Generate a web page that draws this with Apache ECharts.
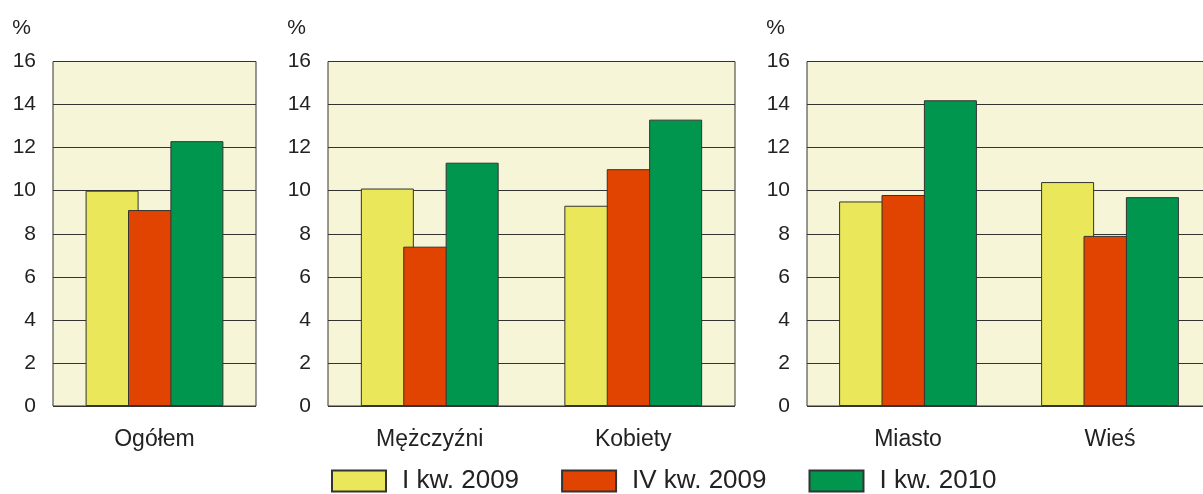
<!DOCTYPE html>
<html>
<head>
<meta charset="utf-8">
<script src="https://cdn.jsdelivr.net/npm/echarts@6/dist/echarts.min.js"></script>
<style>html,body{margin:0;padding:0;background:#fff}#c{width:1203px;height:494px}</style>
</head>
<body>
<div id="c"></div>
<script>
// Data
var seriesNames = ['I kw. 2009', 'IV kw. 2009', 'I kw. 2010'];
var catTotal = ['Ogółem'];
var catSex = ['Mężczyźni', 'Kobiety'];
var catPlace = ['Miasto', 'Wieś'];
var totalQ1_2009 = [10.0];
var totalQ4_2009 = [9.1];
var totalQ1_2010 = [12.3];
var sexQ1_2009 = [10.1, 9.3];
var sexQ4_2009 = [7.4, 11.0];
var sexQ1_2010 = [11.3, 13.3];
var placeQ1_2009 = [9.5, 10.4];
var placeQ4_2009 = [9.8, 7.9];
var placeQ1_2010 = [14.2, 9.7];
var yTicks = [0, 16, 2];

var colors = ['#EAE85A', '#E04400', '#00964E'];
var FONT = 'Liberation Sans, Arial, sans-serif';
var chart = echarts.init(document.getElementById('c'), null, {renderer: 'canvas'});

var grids = [
  {left: 53, top: 61.5, width: 203, height: 344.5},
  {left: 328, top: 61.5, width: 407, height: 344.5},
  {left: 807, top: 61.5, width: 404, height: 344.5}
];
var cats = [catTotal, catSex, catPlace];
var panelData = [
  [totalQ1_2009, totalQ4_2009, totalQ1_2010],
  [sexQ1_2009, sexQ4_2009, sexQ1_2010],
  [placeQ1_2009, placeQ4_2009, placeQ1_2010]
];

var xAxes = [], yAxes = [], series = [], gridOpts = [];
grids.forEach(function (g, i) {
  gridOpts.push(Object.assign({show: true, backgroundColor: '#F6F5D7', borderColor: '#333', borderWidth: 1,
    containLabel: false, outerBoundsMode: 'none'}, g));
  xAxes.push({
    type: 'category', gridIndex: i, data: cats[i],
    axisLine: {show: false}, axisTick: {show: false},
    axisLabel: {margin: 22, fontSize: 23, color: '#222', fontFamily: FONT}
  });
  yAxes.push({
    type: 'value', gridIndex: i, min: yTicks[0], max: yTicks[1], interval: yTicks[2],
    axisLine: {show: false}, axisTick: {show: false},
    axisLabel: {margin: 17, fontSize: 21, color: '#222', fontFamily: FONT},
    splitLine: {show: true, lineStyle: {color: '#333', width: 1}},
    name: '%', nameLocation: 'end', nameGap: 23,
    nameTextStyle: {fontSize: 21, color: '#222', fontFamily: FONT, align: 'right', padding: [0, 22, 0, 0]}
  });
  panelData[i].forEach(function (vals, s) {
    series.push({
      type: 'bar', name: seriesNames[s], xAxisIndex: i, yAxisIndex: i,
      data: vals, barWidth: 53, barGap: '-20%',
      itemStyle: {color: colors[s], borderColor: '#333', borderWidth: 1},
      emphasis: {disabled: true}
    });
  });
});

chart.setOption({
  animation: false,
  grid: gridOpts,
  xAxis: xAxes,
  yAxis: yAxes,
  legend: {
    data: seriesNames, left: 326, top: 463, icon: 'rect',
    itemWidth: 54, itemHeight: 21, itemGap: 42,
    textStyle: {fontSize: 26, color: '#222', fontFamily: FONT, padding: [0, 0, 0, 11]}
  },
  series: series
});
</script>
</body>
</html>
